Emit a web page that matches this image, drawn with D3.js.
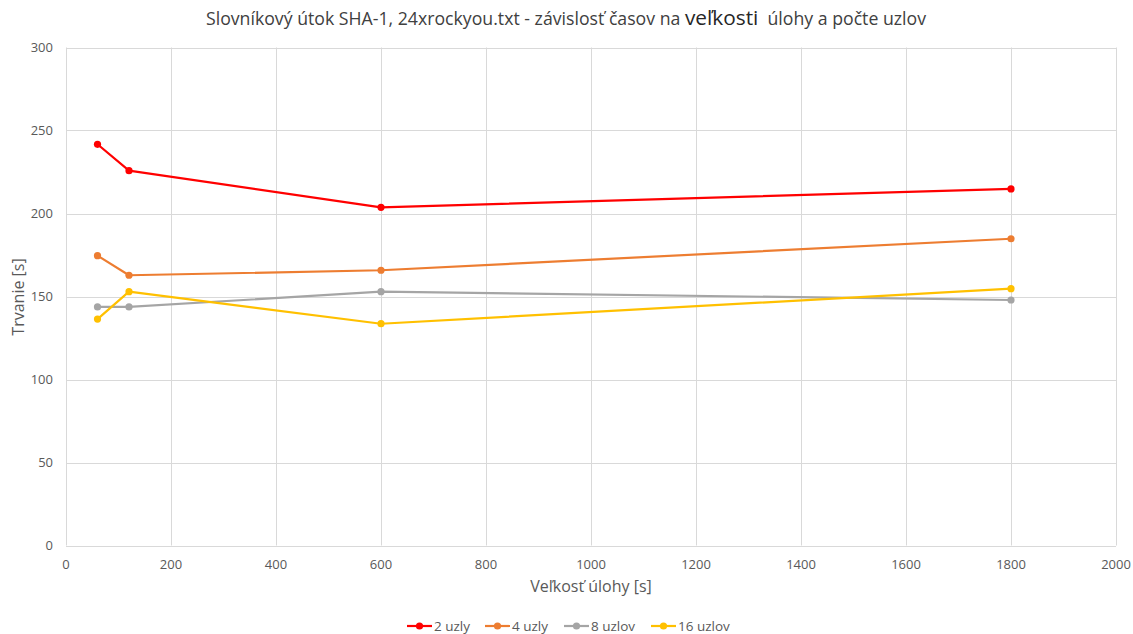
<!DOCTYPE html>
<html><head><meta charset="utf-8">
<script src="https://cdn.jsdelivr.net/npm/d3@7"></script>
<style>body{margin:0;background:#fff}svg{display:block}text{font-family:"Open Sans",sans-serif}</style>
</head><body><svg id="c" width="1133" height="634"></svg>
<script>
const xValues = [60, 120, 600, 1800];
const seriesNames = ["2 uzly", "4 uzly", "8 uzlov", "16 uzlov"];
const seriesColors = ["#ff0000", "#ed7d31", "#a5a5a5", "#ffc000"];
const s2 = [241.7, 225.8, 203.7, 214.8];
const s4 = [174.6, 162.8, 165.8, 184.8];
const s8 = [143.7, 143.7, 152.9, 147.9];
const s16 = [136.4, 152.9, 133.6, 154.7];
const xTicks = [0,200,400,600,800,1000,1200,1400,1600,1800,2000];
const yTicks = [0,50,100,150,200,250,300];
const seriesValues = [s2, s4, s8, s16];

const svg = d3.select("#c");
const x = d3.scaleLinear().domain([0,2000]).range([66,1116]);
const y = d3.scaleLinear().domain([0,300]).range([545.5,47.5]);
const grid = "#d9d9d9", txt = "#595959";

svg.append("g").selectAll("line.h").data(yTicks).join("line")
  .attr("x1",x(0)).attr("x2",x(2000)).attr("y1",d=>Math.round(y(d))+0.5).attr("y2",d=>Math.round(y(d))+0.5)
  .attr("stroke",grid).attr("stroke-width",1);
svg.append("g").selectAll("line.v").data(xTicks).join("line")
  .attr("y1",y(0)).attr("y2",y(300)).attr("x1",d=>Math.round(x(d))+0.5).attr("x2",d=>Math.round(x(d))+0.5)
  .attr("stroke",grid).attr("stroke-width",1);

svg.append("g").selectAll("text").data(yTicks).join("text")
  .attr("x",53).attr("y",d=>y(d)+4.5).attr("text-anchor","end")
  .attr("font-size",13).attr("fill",txt).text(d=>d);
svg.append("g").selectAll("text").data(xTicks).join("text")
  .attr("x",d=>x(d)).attr("y",569).attr("text-anchor","middle")
  .attr("font-size",13).attr("fill",txt).text(d=>d);

const line = d3.line().x((d,i)=>x(xValues[i])).y(d=>y(d));
seriesValues.forEach((vals,k)=>{
  svg.append("path").datum(vals).attr("d",line).attr("fill","none")
    .attr("stroke",seriesColors[k]).attr("stroke-width",2.2).attr("stroke-linejoin","round");
  svg.append("g").selectAll("circle").data(vals).join("circle")
    .attr("cx",(d,i)=>x(xValues[i])).attr("cy",d=>y(d)).attr("r",3.6).attr("fill",seriesColors[k]);
});

// title
const t = svg.append("text").attr("x",566).attr("y",25).attr("text-anchor","middle").attr("fill","#404040").attr("font-size",17.7);
t.append("tspan").text("Slovníkový útok SHA-1, 24xrockyou.txt - závislosť časov na ");
t.append("tspan").attr("font-size",20.8).attr("fill","#262626").text("veľkosti");
t.append("tspan").text("\u00a0 úlohy a počte uzlov");

svg.append("text").attr("x",591).attr("y",592).attr("text-anchor","middle").attr("font-size",16).attr("fill",txt).text("Veľkosť úlohy [s]");
svg.append("text").attr("transform","translate(24,297) rotate(-90)").attr("text-anchor","middle").attr("font-size",16).attr("fill",txt).text("Trvanie [s]");

// legend
const legX = [407, 485, 564, 651];
seriesNames.forEach((n,k)=>{
  const g = svg.append("g").attr("transform",`translate(${legX[k]},626)`);
  g.append("line").attr("x1",0).attr("x2",25).attr("y1",0).attr("y2",0).attr("stroke",seriesColors[k]).attr("stroke-width",2.2);
  g.append("circle").attr("cx",12.5).attr("cy",0).attr("r",3.6).attr("fill",seriesColors[k]);
  g.append("text").attr("x",27).attr("y",4.5).attr("font-size",13.5).attr("fill",txt).text(n);
});
</script></body></html>
